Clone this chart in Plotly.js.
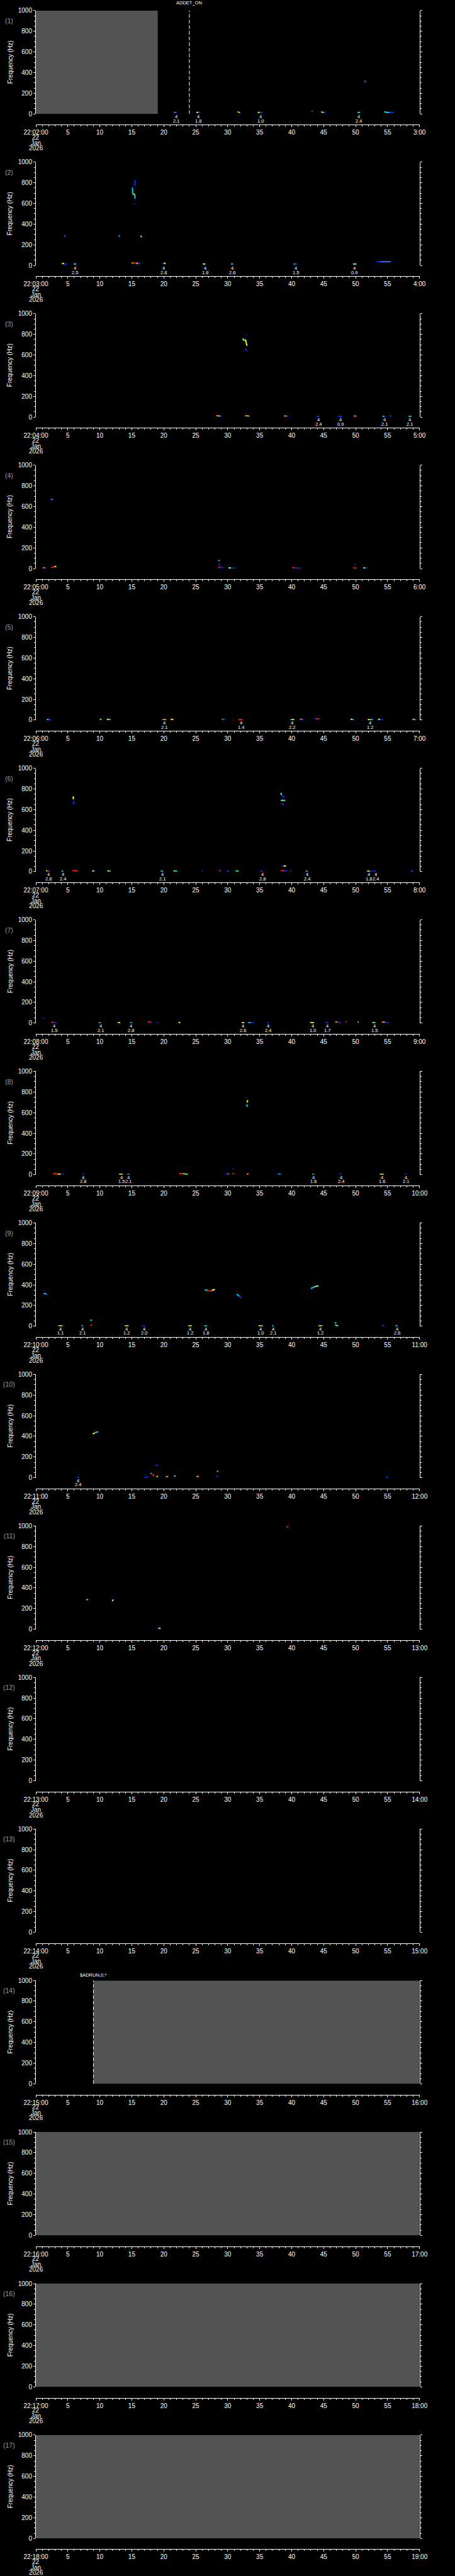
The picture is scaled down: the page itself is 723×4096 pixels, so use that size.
<!DOCTYPE html>
<html><head><meta charset="utf-8">
<script src="https://cdn.plot.ly/plotly-3.0.1.min.js"></script>
<style>html,body{margin:0;padding:0;background:#000;}#chart{width:723px;height:4096px;}</style>
</head><body><div id="chart"></div>
<script>
// ---------------- data ----------------
const panelLabels = ['(1)','(2)','(3)','(4)','(5)','(6)','(7)','(8)','(9)','(10)','(11)','(12)','(13)','(14)','(15)','(16)','(17)'];
const startLabels = ['22:02:00','22:03:00','22:04:00','22:05:00','22:06:00','22:07:00','22:08:00','22:09:00','22:10:00','22:11:00','22:12:00','22:13:00','22:14:00','22:15:00','22:16:00','22:17:00','22:18:00'];
const endLabels = ['3:00','4:00','5:00','6:00','7:00','8:00','9:00','10:00','11:00','12:00','13:00','14:00','15:00','16:00','17:00','18:00','19:00'];
const dateLines = ['22','Jan','2026'];
const tickSeconds = [0,5,10,15,20,25,30,35,40,45,50,55,60];
const freqTicks = [0,200,400,600,800,1000];

// grey (no data) intervals, seconds
const grayFrom = [0,null,null,null,null,null,null,null,null,null,null,null,null,9,0,0,0];
const grayTo   = [19.06,null,null,null,null,null,null,null,null,null,null,null,null,60,60,60,60];

// event markers
const eventPanel = [1,14];
const eventTime = [24,9];
const eventText = ['ADDET_ON','$ADRUN,0,*'];

// marks: [t0, t1, f0, f1, colour]
const m1 = [[21.6,21.8,15,15,'c'],[21.8,22.1,15,15,'b'],[25.1,25.3,15,15,'y'],[25.3,25.45,15,15,'c'],[25.45,25.7,15,15,'b'],
 [31.5,31.75,19,17,'o'],[31.75,31.9,15,15,'y'],[31.9,32.05,15,15,'b'],[34.7,35.0,15,15,'y'],[35.0,35.5,15,15,'b'],
 [43.1,43.25,27,27,'r'],[43.25,43.4,27,27,'b'],[44.6,44.85,19,16,'g'],[44.85,45.0,15,15,'y'],[45.0,45.3,15,15,'b'],
 [50.3,50.7,15,15,'c'],[51.4,51.5,315,315,'y'],[51.5,51.7,315,315,'b'],[54.5,54.75,19,19,'g'],[54.75,55.3,15,15,'c'],[55.3,56.0,15,15,'b'],
 [60.45,60.55,305,305,'r'],[60.6,60.7,312,312,'m']];
const m2 = [[4.07,4.4,19,17,'y'],[4.4,4.86,15,15,'b'],[5.9,6.3,15,15,'c'],[4.4,4.65,286,286,'m'],[12.92,13.15,286,286,'c'],
 [16.35,16.5,285,280,'y'],[16.5,16.6,278,278,'g'],
 [15.5,15.5,830,775,'b'],[15.35,15.5,775,775,'b'],[15.05,15.15,752,752,'b'],[15.12,15.12,752,690,'c'],[15.15,15.35,690,690,'c'],
 [15.35,15.45,695,680,'y'],[15.48,15.5,680,648,'c'],[15.3,15.5,600,600,'b'],
 [15.0,15.2,24,24,'y'],[15.2,15.7,24,24,'r'],[15.7,15.95,22,20,'y'],[15.95,16.35,20,20,'b'],
 [19.75,20.0,20,20,'b'],[20.0,20.3,20,20,'y'],[26.1,26.45,15,15,'y'],[26.45,26.7,15,15,'b'],[30.5,30.85,15,15,'c'],
 [40.3,40.55,15,15,'c'],[40.55,40.85,15,15,'b'],[49.4,49.65,15,15,'b'],[49.65,49.95,15,15,'y'],[49.95,50.2,15,15,'c'],
 [53.3,53.8,36,38,'b'],[53.8,55.5,38,38,'m']];
const m3 = [[28.2,28.6,12,12,'o'],[28.6,28.8,10,10,'y'],[28.8,29.1,8,8,'b'],[32.7,33.1,12,12,'o'],[33.1,33.3,10,10,'y'],[33.3,33.5,8,8,'b'],
 [32.85,33.0,795,795,'b'],[32.4,32.45,762,742,'g'],[32.45,32.8,742,748,'g'],[32.8,32.95,748,700,'y'],[32.95,33.05,700,690,'y'],
 [32.85,32.9,665,640,'b'],[32.9,33.05,640,640,'b'],
 [38.8,39.2,10,10,'o'],[39.2,39.5,8,8,'b'],[43.9,44.3,6,6,'b'],[47.3,47.9,6,6,'b'],[49.7,50.0,10,10,'o'],[50.0,50.3,8,8,'b'],
 [54.2,54.45,6,6,'c'],[54.45,54.7,6,6,'b'],[55.3,55.6,10,10,'b'],[58.3,58.7,6,6,'c'],
 [61.15,61.35,10,10,'o'],[61.45,61.65,8,8,'b']];
const m4 = [[1.1,1.4,8,8,'o'],[1.4,1.7,5,5,'b'],[2.4,2.9,13,15,'r'],[2.9,3.2,18,20,'y'],[2.3,2.7,668,668,'m'],
 [28.5,28.75,77,77,'c'],[28.5,28.85,39,39,'b'],[28.5,28.9,14,14,'r'],[28.9,29.3,10,10,'b'],[30.1,30.5,6,6,'g'],[30.5,31.2,4,4,'b'],
 [40.1,40.5,8,8,'r'],[40.5,41.3,4,4,'b'],[49.85,50.0,39,39,'b'],[49.6,49.8,8,8,'r'],[49.8,50.2,3,3,'r'],[51.2,51.5,6,6,'g'],[51.5,51.9,4,4,'b'],
 [60.2,60.4,6,6,'y'],[61.8,62.2,5,5,'c']];
const m5 = [[1.7,2.0,6,6,'c'],[2.0,2.4,4,4,'b'],[10.0,10.2,8,8,'y'],[10.2,10.4,5,5,'b'],[11.1,11.4,7,7,'y'],[11.4,11.7,5,5,'c'],
 [19.8,20.1,5,5,'o'],[20.1,20.4,5,5,'c'],[21.0,21.25,9,9,'o'],[21.25,21.5,6,6,'y'],[29.1,29.3,7,7,'c'],[29.3,29.6,5,5,'b'],
 [31.7,32.3,5,5,'r'],[39.8,40.1,5,5,'c'],[40.1,40.4,5,5,'y'],[41.3,41.6,8,8,'o'],[41.6,41.9,5,5,'b'],[43.6,43.9,12,12,'b'],[43.9,44.3,12,12,'r'],
 [49.2,49.45,7,7,'y'],[49.45,49.7,5,5,'c'],[51.9,52.3,5,5,'y'],[52.3,52.7,5,5,'c'],[53.5,53.8,7,7,'y'],[53.8,54.3,5,5,'b'],
 [58.9,59.1,8,8,'y'],[59.1,59.4,5,5,'c'],[61.8,62.1,5,5,'r']];
const m6 = [[1.6,1.8,8,8,'y'],[1.8,2.0,5,5,'r'],[2.0,2.2,5,5,'b'],[4.0,4.3,4,4,'c'],[5.7,6.6,9,9,'r'],
 [5.75,5.95,722,722,'y'],[5.85,5.85,722,700,'y'],[5.88,5.95,684,650,'b'],
 [8.8,9.1,7,7,'y'],[9.1,9.3,5,5,'b'],[11.2,11.45,7,7,'y'],[11.45,11.7,5,5,'c'],[19.5,19.9,4,4,'c'],[21.5,21.8,7,7,'g'],[21.8,22.1,5,5,'c'],
 [25.9,26.1,4,4,'b'],[28.6,28.8,9,9,'r'],[28.8,29.0,9,9,'b'],[29.8,30.2,5,5,'b'],[31.2,31.45,7,7,'c'],[31.45,31.7,5,5,'g'],[35.1,35.5,4,4,'b'],
 [38.3,38.4,762,742,'g'],[38.4,38.85,742,716,'b'],[38.3,39.0,688,690,'g'],[38.4,38.8,656,645,'b'],
 [38.4,38.75,54,54,'b'],[38.75,39.1,54,54,'y'],[38.3,38.9,9,9,'r'],[38.9,39.3,7,7,'b'],
 [39.8,40.0,4,4,'b'],[42.2,42.5,4,4,'c'],[51.8,52.2,4,4,'y'],[52.2,52.7,4,4,'b'],[52.8,53.2,4,4,'b'],[58.6,59.0,5,5,'b'],
 [61.05,61.25,43,43,'c']];
const m7 = [[1.1,1.25,47,47,'b'],[2.4,2.8,8,8,'r'],[2.8,3.3,5,5,'b'],[9.8,10.2,4,4,'c'],[12.8,13.2,5,5,'y'],[14.7,15.1,4,4,'c'],
 [17.5,17.9,12,12,'r'],[17.9,18.2,10,10,'b'],[19.0,19.2,5,5,'b'],[22.3,22.6,5,5,'y'],[32.2,32.6,5,5,'y'],[33.2,33.6,5,5,'c'],[33.6,34.1,5,5,'b'],
 [36.1,36.4,5,5,'b'],[42.9,43.5,5,5,'y'],[45.3,45.8,5,5,'b'],[46.8,47.2,12,10,'o'],[47.2,47.7,7,5,'b'],[48.4,48.6,15,15,'r'],
 [50.3,50.5,10,10,'o'],[52.6,53.1,5,5,'g'],[54.1,54.6,10,10,'o'],[54.6,55.2,6,6,'b']];
const m8 = [[2.7,3.4,11,8,'r'],[3.4,3.9,7,4,'y'],[3.9,4.4,3,3,'b'],[7.3,7.6,3,3,'b'],[13.0,13.6,3,3,'y'],[14.3,14.6,3,3,'c'],
 [22.4,23.0,12,10,'r'],[23.0,23.4,9,6,'g'],[23.4,23.8,4,2,'y'],[29.6,30.0,8,8,'b'],[30.0,30.2,8,8,'o'],[30.75,30.95,58,58,'b'],[30.7,31.0,8,8,'r'],
 [33.0,33.1,0,8,'y'],[33.1,33.35,10,10,'r'],[33.0,33.15,700,720,'y'],[32.95,33.1,680,657,'c'],
 [37.7,38.0,8,8,'b'],[38.0,38.3,5,2,'c'],[43.2,43.5,3,3,'c'],[47.5,47.8,3,3,'b'],[53.8,54.4,3,3,'y'],[57.7,58.0,3,3,'b'],
 [61.3,61.9,306,298,'c']];
const m9 = [[1.2,1.6,316,314,'c'],[1.6,1.9,310,304,'b'],[26.4,26.9,352,345,'c'],[26.9,27.5,342,342,'r'],[27.5,28.0,345,356,'y'],
 [31.4,31.8,310,292,'c'],[31.8,32.2,290,272,'b'],[43.0,43.5,365,378,'c'],[43.5,44.2,382,391,'g'],
 [3.5,4.2,3,3,'y'],[7.1,7.4,3,3,'c'],[8.5,8.8,58,58,'c'],[8.5,8.8,11,11,'r'],[13.9,14.5,3,3,'y'],[16.6,17.1,3,3,'b'],
 [23.8,24.4,3,3,'y'],[26.3,26.8,3,3,'c'],[34.8,35.5,3,3,'y'],[36.9,37.2,3,3,'c'],[44.2,44.8,3,3,'y'],
 [46.7,47.0,32,32,'c'],[46.8,47.3,11,0,'g'],[54.1,54.5,6,6,'b'],[56.2,56.6,3,3,'c']];
const m10 = [[8.9,9.2,424,432,'y'],[9.2,9.75,436,445,'c'],[6.4,6.8,4,4,'b'],[17.0,17.6,4,4,'b'],[17.9,18.1,41,41,'c'],[18.2,18.5,37,15,'r'],
 [18.7,19.1,120,120,'b'],[18.7,18.9,13,13,'b'],[18.9,19.1,13,13,'y'],[20.3,20.7,11,11,'o'],[21.6,21.9,17,17,'c'],[25.1,25.5,13,11,'o'],
 [28.2,28.5,13,13,'b'],[28.3,28.5,62,62,'g'],[54.7,55.1,4,4,'b']];
const m11 = [[7.9,8.1,287,287,'y'],[8.1,8.3,287,287,'b'],[12.0,12.3,287,287,'b'],[12.0,12.0,287,272,'y'],
 [18.9,19.2,9,9,'b'],[19.2,19.5,9,9,'y'],[39.2,39.5,985,1000,'r']];
const panelMarks = [m1,m2,m3,m4,m5,m6,m7,m8,m9,m10,m11,[],[],[],[],[],[]];

// detection labels: [t, count, value]
const d1 = [[21.9,'4','2.1'],[25.4,'4','1.8'],[35.1,'4','1.0'],[50.5,'4','2.4']];
const d2 = [[6.1,'4','2.5'],[20.0,'4','2.8'],[26.45,'4','1.8'],[30.7,'4','2.6'],[40.6,'4','1.5'],[49.8,'4','0.9']];
const d3 = [[44.2,'4','2.4'],[47.6,'4','0.9'],[54.5,'4','2.1'],[58.5,'4','2.1']];
const d5 = [[20.1,'4','2.1'],[32.1,'4','1.4'],[40.1,'4','2.2'],[52.3,'4','1.2'],[62.0,'4','2.8']];
const d6 = [[2.0,'4','2.8'],[4.2,'4','2.4'],[19.8,'4','2.1'],[35.4,'4','2.8'],[42.4,'4','2.4'],[52.1,'4','1.8'],[53.1,'4','2.4']];
const d7 = [[2.9,'4','1.5'],[10.1,'4','2.1'],[14.9,'4','2.8'],[32.4,'4','2.6'],[36.3,'4','2.4'],[43.3,'4','1.0'],[45.6,'4','1.7'],[52.9,'4','1.5']];
const d8 = [[7.4,'4','2.8'],[13.4,'4','1.5'],[14.5,'4','2.1'],[43.4,'4','1.6'],[47.7,'4','2.4'],[54.1,'4','1.6'],[57.9,'4','2.1']];
const d9 = [[3.85,'4','1.1'],[7.3,'4','2.1'],[14.2,'4','1.2'],[16.9,'4','2.0'],[24.1,'4','1.2'],[26.6,'4','1.8'],[35.1,'4','1.0'],[37.1,'4','2.1'],[44.5,'4','1.2'],[56.5,'4','2.6']];
const d10 = [[6.6,'4','2.4']];
const panelDets = [d1,d2,d3,[],d5,d6,d7,d8,d9,d10,[],[],[],[],[],[],[]];

// ---------------- styling ----------------
const palette = {b:'#0a2aff', m:'#1a6cff', c:'#00d2ff', g:'#5cff8a', y:'#f2ff00', o:'#ff8c00', r:'#ff1800'};
const NP = 17, W = 723, H = 4096, PH = H / NP;
const G = {L:57.0, R:666.7, T:16.9, B:181.2, axisY:198.4, numX:14.8, numY:33, titleX:16.2, dateY:[218.6,227.5,235.7]};
const FONT = 'Liberation Sans, Arial, sans-serif';
const WHITE = '#ffffff';

const layout = {width:W, height:H, margin:{l:0,r:0,t:0,b:0}, paper_bgcolor:'#000', plot_bgcolor:'rgba(0,0,0,0)',
  showlegend:false, shapes:[], annotations:[], font:{family:FONT, color:WHITE, size:10}};
const traces = [];

for (let k = 0; k < NP; k++) {
  const sfx = k ? String(k + 1) : '';
  const xr = 'x' + sfx, yr = 'y' + sfx;
  const T = k * PH;
  layout['xaxis' + sfx] = {
    domain:[G.L / W, G.R / W], anchor:'free', position: 1 - (T + G.axisY) / H,
    range:[0, 60], tickmode:'array', tickvals: tickSeconds,
    ticktext: tickSeconds.map((v, i) => i === 0 ? startLabels[k] : (i === tickSeconds.length - 1 ? endLabels[k] : String(v))),
    ticks:'outside', ticklen:3, tickwidth:1, tickcolor:WHITE,
    minor:{tickmode:'linear', tick0:0, dtick:1, ticks:'outside', ticklen:2, tickwidth:1, tickcolor:WHITE, showgrid:false},
    showline:true, linecolor:WHITE, linewidth:1, showgrid:false, zeroline:false,
    tickfont:{family:FONT, size:10, color:WHITE}, fixedrange:true
  };
  layout['yaxis' + sfx] = {
    domain:[1 - (T + G.B) / H, 1 - (T + G.T) / H], anchor: xr,
    range:[0, 1000], tickmode:'array', tickvals: freqTicks,
    ticks:'outside', ticklen:3, tickwidth:1, tickcolor:WHITE,
    minor:{tickmode:'linear', tick0:0, dtick:50, ticks:'outside', ticklen:2, tickwidth:1, tickcolor:WHITE, showgrid:false},
    showline:true, mirror:'ticks', linecolor:WHITE, linewidth:1, showgrid:false, zeroline:false,
    tickfont:{family:FONT, size:10, color:WHITE}, fixedrange:true
  };

  if (grayFrom[k] !== null) {
    layout.shapes.push({type:'rect', xref:xr, yref:yr, x0:grayFrom[k], x1:grayTo[k], y0:0, y1:1000,
      fillcolor:'#535353', line:{width:0}, layer:'below'});
  }
  eventPanel.forEach((p, i) => {
    if (p === k + 1) {
      layout.shapes.push({type:'line', xref:xr, yref:yr, x0:eventTime[i], x1:eventTime[i], y0:0, y1:1000,
        line:{color:WHITE, width:1, dash:'6px,3px'}, layer:'above'});
      layout.annotations.push({xref:xr, yref:yr, x:eventTime[i], y:1000, yshift: k === 0 ? 12.7 : 8.5,
        text:eventText[i], showarrow:false, xanchor:'center', yanchor:'middle', font:{family:FONT, size:7.5, color:WHITE}});
    }
  });

  const marks = panelMarks[k];
  Object.keys(palette).forEach(col => {
    const xs = [], ys = [], ox = [], oy = [];
    marks.forEach(m => {
      if (m[4] !== col) return;
      if (m[0] > 60) { ox.push((m[0] + m[1]) / 2); oy.push((m[2] + m[3]) / 2); }
      else { xs.push(m[0], m[1], null); ys.push(m[2], m[3], null); }
    });
    if (xs.length) traces.push({type:'scatter', mode:'lines', x:xs, y:ys, xaxis:xr, yaxis:yr,
      line:{color:palette[col], width:2}, hoverinfo:'skip'});
    if (ox.length) traces.push({type:'scatter', mode:'markers', x:ox, y:oy, xaxis:xr, yaxis:yr, cliponaxis:false,
      marker:{symbol:'line-ew', size:5, line:{color:palette[col], width:2}}, hoverinfo:'skip'});
  });
  traces.push({type:'scatter', mode:'lines', x:[], y:[], xaxis:xr, yaxis:yr, hoverinfo:'skip'});

  panelDets[k].forEach(d => {
    layout.annotations.push({xref:xr, yref:yr, x:d[0], y:0, yshift:-4.6, text:d[1], showarrow:false,
      xanchor:'center', yanchor:'middle', font:{family:FONT, size:7.5, color:WHITE}});
    layout.annotations.push({xref:xr, yref:yr, x:d[0], y:0, yshift:-11.2, text:d[2], showarrow:false,
      xanchor:'center', yanchor:'middle', font:{family:FONT, size:7.5, color:WHITE}});
  });

  layout.annotations.push({xref:'paper', yref:'paper', x:G.numX / W, y:1 - (T + G.numY) / H, text:panelLabels[k],
    showarrow:false, xanchor:'center', yanchor:'middle', font:{family:FONT, size:10.5, color:'#9c9c9c'}});
  layout.annotations.push({xref:'paper', yref:'paper', x:G.titleX / W, y:1 - (T + (G.T + G.B) / 2) / H, text:'Frequency (Hz)',
    textangle:-90, showarrow:false, xanchor:'center', yanchor:'middle', font:{family:FONT, size:10, color:WHITE}});
  dateLines.forEach((s, i) => {
    layout.annotations.push({xref:xr, yref:'paper', x:0, y:1 - (T + G.dateY[i]) / H, text:s,
      showarrow:false, xanchor:'center', yanchor:'middle', font:{family:FONT, size:10, color:WHITE}});
  });
}

Plotly.newPlot('chart', traces, layout, {staticPlot:true, displayModeBar:false});
</script>
</body></html>
